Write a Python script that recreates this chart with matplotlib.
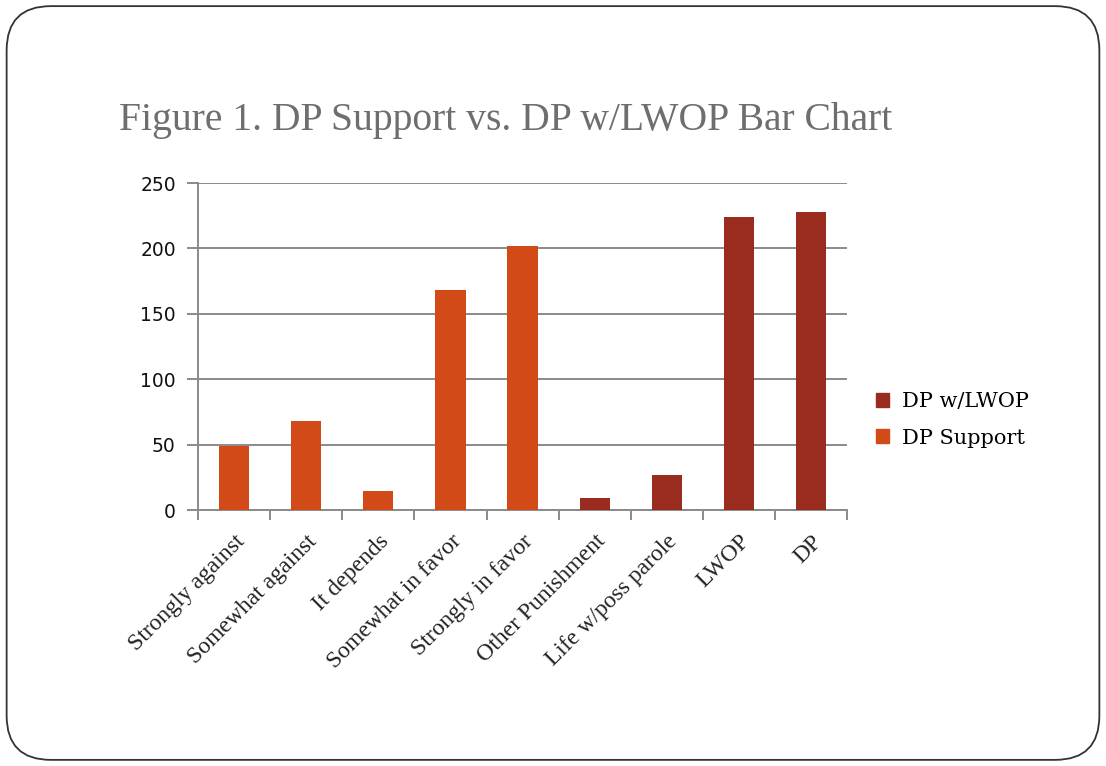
import numpy as np
import matplotlib.pyplot as plt
from matplotlib.patches import FancyBboxPatch, Patch

# data
categories = ["Strongly against", "Somewhat against", "It depends", "Somewhat in favor",
              "Strongly in favor", "Other Punishment", "Life w/poss parole", "LWOP", "DP"]
dp_support = [49, 68, 15, 168, 202, 0, 0, 0, 0]
dp_lwop = [0, 0, 0, 0, 0, 9, 27, 224, 228]
y_ticks = [0, 50, 100, 150, 200, 250]

orange = "#D14A17"
darkred = "#9A2B1F"
grid_gray = "#8A8A8A"

fig = plt.figure(figsize=(11.06, 7.66), dpi=100)

# rounded slide border
border = FancyBboxPatch((0.006, 0.008), 0.988, 0.984,
                        boxstyle="round,pad=0,rounding_size=0.04",
                        transform=fig.transFigure, fill=False,
                        edgecolor="#333333", linewidth=1.3, mutation_aspect=1106 / 766)
fig.patches.append(border)

fig.text(0.108, 0.843, "Figure 1. DP Support vs. DP w/LWOP Bar Chart",
         family="Liberation Serif", fontsize=28.5, color="#6E6E6E", va="center")

ax = fig.add_axes([0.179, 0.334, 0.587, 0.427])
x = np.arange(len(categories))
w = 0.42
mask_s = np.array(dp_support) > 0
mask_l = np.array(dp_lwop) > 0
ax.bar(x[mask_s], np.array(dp_support)[mask_s], width=w, color=orange, zorder=3)
ax.bar(x[mask_l], np.array(dp_lwop)[mask_l], width=w, color=darkred, zorder=3)

ax.set_xlim(-0.5, len(categories) - 0.5)
ax.set_ylim(0, 250)
ax.set_yticks(y_ticks)
ax.yaxis.grid(True, color=grid_gray, linewidth=1.4, zorder=0)
ax.tick_params(axis="y", length=8, width=1.4, color=grid_gray, labelsize=13.5,
               labelcolor="#111111", pad=8)
for lab in ax.get_yticklabels():
    lab.set_family("DejaVu Sans")

ax.set_xticks(x)
ax.set_xticklabels(categories, rotation=45, ha="right", rotation_mode="anchor",
                   family="Liberation Serif", fontsize=17, color="#222222")
ax.tick_params(axis="x", which="major", length=0, pad=15)
ax.set_xticks(np.arange(-0.5, len(categories)), minor=True)
ax.tick_params(axis="x", which="minor", length=7, width=1.4, color=grid_gray)

for s in ["top", "right"]:
    ax.spines[s].set_visible(False)
for s in ["left", "bottom"]:
    ax.spines[s].set_color(grid_gray)
    ax.spines[s].set_linewidth(1.4)

handles = [Patch(color=darkred, label="DP w/LWOP"), Patch(color=orange, label="DP Support")]
fig.legend(handles=handles, loc="center left", bbox_to_anchor=(0.775, 0.452),
           frameon=False, prop={"family": "DejaVu Serif", "size": 15},
           handlelength=0.65, handleheight=0.65, labelspacing=0.85, handletextpad=0.6)

fig.savefig("out.png", dpi=100)
